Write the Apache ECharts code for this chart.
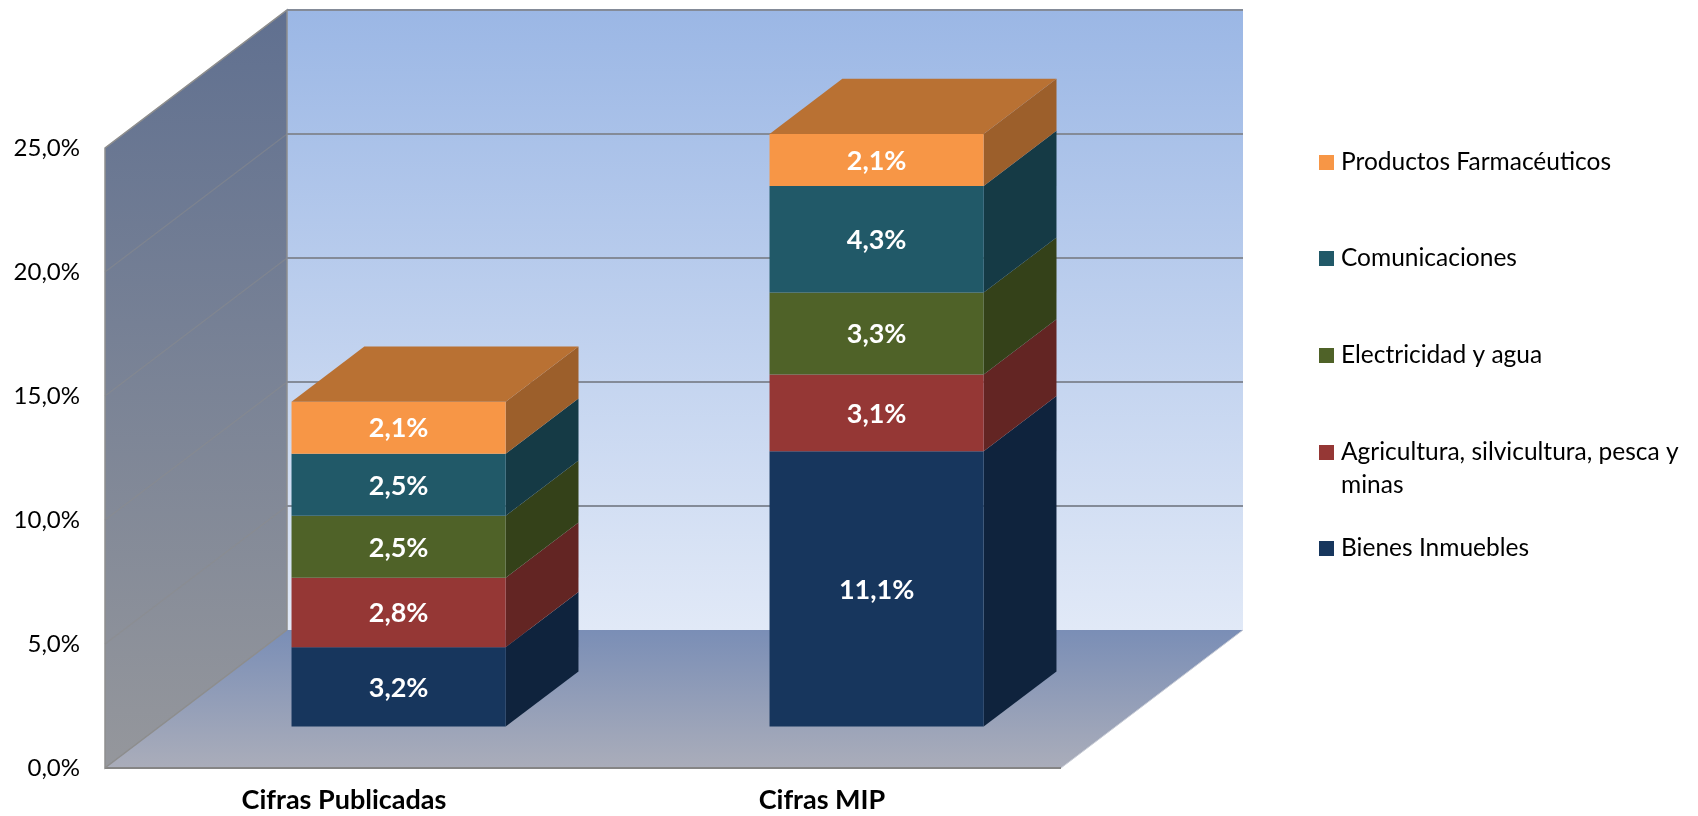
<!DOCTYPE html>
<html><head><meta charset="utf-8">
<style>html,body{margin:0;padding:0;background:#fff}#c{width:1698px;height:816px}</style>
<script src="https://cdn.jsdelivr.net/npm/echarts@6/dist/echarts.min.js"></script>
</head><body><div id="c"></div>
<script>
const categories = ['Cifras Publicadas', 'Cifras MIP'];
const yTicks = [0, 5, 10, 15, 20, 25];
const bienes = [3.2, 11.1];
const agricultura = [2.8, 3.1];
const electricidad = [2.5, 3.3];
const comunicaciones = [2.5, 4.3];
const farmaceuticos = [2.1, 2.1];
const names = ['Bienes Inmuebles', 'Agricultura, silvicultura, pesca y\nminas', 'Electricidad y agua', 'Comunicaciones', 'Productos Farmacéuticos'];
const stackValues = [bienes, agricultura, electricidad, comunicaciones, farmaceuticos];
const frontColors = ['#17365D', '#953735', '#4F6228', '#215968', '#F79646'];
const sideColors = ['#0F233D', '#632523', '#344119', '#153A45', '#9C5F2B'];
const capColor = '#B97133';
const legendTops = {4: 146, 3: 242, 2: 339, 1: 436, 0: 532};

const FONT = 'Lato';
const WALL_DX = 182, WALL_DY = -138;      // chart-box depth
const BAR_SHIFT = 0.30;                   // bar's front plane, fraction of depth
const BAR_DEPTH = 0.40;                   // bar's depth, fraction of depth
const BAR_WIDTH = 0.448;                  // fraction of band

function fmt(v) { return v.toFixed(1).replace('.', ',') + '%'; }
function poly(pts, style) { return {type: 'polygon', shape: {points: pts}, style: style}; }
function vGrad(a, b) { return {type: 'linear', x: 0, y: 0, x2: 0, y2: 1, colorStops: [{offset: 0, color: a}, {offset: 1, color: b}]}; }

function renderWalls(params, api) {
  const cs = params.coordSys;
  const L = cs.x, R = cs.x + cs.width;
  const y = api.coord([0, api.value(0)])[1];
  const children = [];
  const y0 = cs.y + cs.height, yT = cs.y;
  if (params.dataIndex === 0) {
    children.push(poly([[L + WALL_DX, yT + WALL_DY], [R + WALL_DX, yT + WALL_DY], [R + WALL_DX, y0 + WALL_DY], [L + WALL_DX, y0 + WALL_DY]],
      {fill: vGrad('#9BB7E5', '#E1E9F7')}));
    children.push(poly([[L, yT], [L + WALL_DX, yT + WALL_DY], [L + WALL_DX, y0 + WALL_DY], [L, y0]],
      {fill: vGrad('#607090', '#95979C'), stroke: '#8F8F8F', lineWidth: 1.5}));
    children.push(poly([[L, y0], [L + WALL_DX, y0 + WALL_DY], [R + WALL_DX, y0 + WALL_DY], [R, y0]],
      {fill: vGrad('#7A8EB6', '#AAADBA')}));
    children.push({type: 'line', shape: {x1: L, y1: y0, x2: R, y2: y0}, style: {stroke: '#858585', lineWidth: 2}});
    children.push({type: 'line', shape: {x1: L, y1: y0, x2: L + WALL_DX, y2: y0 + WALL_DY}, style: {stroke: '#8D8D8D', lineWidth: 1.2}});
    children.push({type: 'line', shape: {x1: R, y1: y0, x2: R + WALL_DX, y2: y0 + WALL_DY}, style: {stroke: '#C8CCD6', lineWidth: 1}});
  }
  if (params.dataIndex > 0) {
    children.push({type: 'line', shape: {x1: L, y1: y, x2: L + WALL_DX, y2: y + WALL_DY}, style: {stroke: '#8C8C8C', opacity: 0.5, lineWidth: 1.2}});
    children.push({type: 'line', shape: {x1: L + WALL_DX, y1: y + WALL_DY, x2: R + WALL_DX, y2: y + WALL_DY}, style: {stroke: '#848B98', lineWidth: 2}});
  }
  return {type: 'group', children: children};
}

function renderSegment(stackIdx) {
  return function (params, api) {
    const c = api.value(0), base = api.value(1), val = api.value(2);
    const band = api.size([1, 0])[0];
    const w = band * BAR_WIDTH;
    const sx = WALL_DX * BAR_SHIFT, sy = WALL_DY * BAR_SHIFT;
    const dx = WALL_DX * BAR_DEPTH, dy = WALL_DY * BAR_DEPTH;
    const cx = api.coord([c, 0])[0] + sx;
    const yb = api.coord([c, base])[1] + sy;
    const yt = api.coord([c, base + val])[1] + sy;
    const l = cx - w / 2, r = cx + w / 2;
    const kids = [
      poly([[r, yb], [r + dx, yb + dy], [r + dx, yt + dy], [r, yt]], {fill: sideColors[stackIdx]}),
      {type: 'rect', shape: {x: l, y: yt, width: w, height: yb - yt}, style: {fill: frontColors[stackIdx]}}
    ];
    if (stackIdx === stackValues.length - 1) {
      kids.push(poly([[l, yt], [l + dx, yt + dy], [r + dx, yt + dy], [r, yt]], {fill: capColor}));
    }
    kids.push({type: 'text', x: cx, y: (yt + yb) / 2 + 1,
      style: {text: fmt(val), fill: '#fff', font: 'bold 27px ' + FONT, align: 'center', verticalAlign: 'middle'}});
    return {type: 'group', children: kids};
  };
}

const series = [{
  type: 'custom', name: 'walls', silent: true, z: 1, clip: false,
  data: yTicks.map(v => [v]),
  encode: {y: 0},
  renderItem: renderWalls
}];
stackValues.forEach((vals, s) => {
  series.push({
    type: 'custom', name: names[s], z: 5 + s, clip: false,
    itemStyle: {color: frontColors[s]},
    data: vals.map((v, i) => {
      let base = 0;
      for (let k = 0; k < s; k++) base += stackValues[k][i];
      return [i, base, v];
    }),
    encode: {x: 0, y: [1, 2]},
    renderItem: renderSegment(s)
  });
});

const legends = names.map((n, s) => ({
  show: true, left: 1319, top: legendTops[s], orient: 'vertical', padding: 0,
  data: [{name: n, icon: n.indexOf('\n') >= 0 ? 'path://M0 0H15V15H0Z M0 48L0 48' : 'rect'}],
  itemWidth: 15, itemHeight: n.indexOf('\n') >= 0 ? 48 : 15,
  selectedMode: false,
  textStyle: {fontFamily: FONT, fontSize: 24.5, color: '#000', lineHeight: 33, padding: [0, 0, 0, 2]}
}));

const chart = echarts.init(document.getElementById('c'), null, {renderer: 'canvas'});
chart.setOption({
  animation: false, backgroundColor: '#fff',
  grid: {left: 105, right: 637, top: 148, bottom: 48, containLabel: false, outerBoundsMode: 'none'},
  legend: legends,
  tooltip: {show: false},
  xAxis: {type: 'category', data: categories, axisLine: {show: false}, axisTick: {show: false}, splitLine: {show: false},
    axisLabel: {margin: 19, color: '#000', fontFamily: FONT, fontSize: 27, fontWeight: 'bold'}},
  yAxis: {type: 'value', min: 0, max: 25, interval: 5, axisLine: {show: false}, axisTick: {show: false}, splitLine: {show: false},
    axisLabel: {margin: 25, color: '#000', fontFamily: FONT, fontSize: 24, formatter: fmt}},
  series: series
});
</script></body></html>
